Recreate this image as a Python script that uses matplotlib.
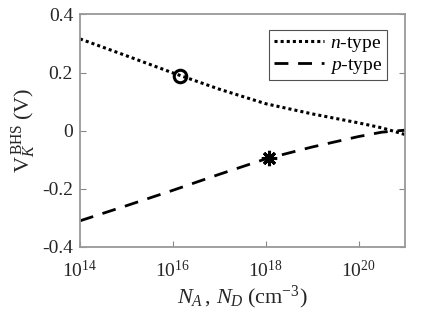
import numpy as np
import matplotlib
matplotlib.use("Agg")
import matplotlib.pyplot as plt

plt.rcParams['font.family'] = ['Liberation Serif', 'DejaVu Serif']
plt.rcParams['mathtext.fontset'] = 'custom'
plt.rcParams['mathtext.rm'] = 'Liberation Serif'
plt.rcParams['mathtext.it'] = 'Liberation Serif:italic'
plt.rcParams['mathtext.bf'] = 'Liberation Serif:bold'

# Data (log10 of doping, potential in V)
log_doping = [14, 15, 16, 17, 18, 19, 20, 20.5, 21]
n_type = [0.316, 0.258, 0.199, 0.143, 0.093, 0.058, 0.027, 0.010, -0.013]
p_type = [-0.310, -0.258, -0.205, -0.150, -0.097, -0.056, -0.020, -0.005, 0.002]

n_marker_x, n_marker_y = 1.45e16, 0.19
p_marker_x, p_marker_y = 1.2e18, -0.093

x_ticks = [1e14, 1e16, 1e18, 1e20]
x_ticklabels = [r'$\mathrm{10^{14}}$', r'$\mathrm{10^{16}}$', r'$\mathrm{10^{18}}$', r'$\mathrm{10^{20}}$']
y_ticks = [-0.4, -0.2, 0, 0.2, 0.4]
y_ticklabels = ['-0.4', '-0.2', '0', '0.2', '0.4']

x = 10.0 ** np.array(log_doping)

fig = plt.figure(figsize=(4.21, 3.22), dpi=100)
ax = fig.add_axes([0.190, 0.233, 0.772, 0.722])

ax.plot(x, n_type, color='black', linestyle=(0, (1, 1)), linewidth=2.2, label=r'$\it{n}$-type')
ax.plot(x, p_type, color='black', linestyle=(0, (5, 3.5)), linewidth=2.0, label=r'$\it{p}$-type')
ax.plot([n_marker_x], [n_marker_y], marker='o', markersize=9, markerfacecolor='none',
        markeredgecolor='black', markeredgewidth=2.2, linestyle='none')
ax.plot([p_marker_x], [p_marker_y], marker=(8, 2, 0), markersize=11,
        markeredgecolor='black', markeredgewidth=2.2, linestyle='none')

ax.set_xscale('log')
ax.set_xlim(1e14, 1e21)
ax.set_ylim(-0.4, 0.4)
ax.set_xticks(x_ticks)
ax.set_xticklabels(x_ticklabels)
ax.xaxis.set_minor_locator(matplotlib.ticker.NullLocator())
ax.set_yticks(y_ticks)
ax.set_yticklabels(y_ticklabels)

for s in ax.spines.values():
    s.set_color('#999999')
    s.set_linewidth(1.3)
ax.tick_params(direction='in', length=4, width=0.8, color='#888888', labelcolor='#262626',
               labelsize=14, top=False, right=True, pad=5)
ax.tick_params(axis='x', pad=9)

ax.set_xlabel(r'$N_A\,,\,N_D\;\mathrm{(cm^{-3})}$', fontsize=16, color='#262626', labelpad=2)
ax.set_ylabel(r'$\mathrm{V}_{\it{K}}^{\,\mathrm{BHS}}\;\mathrm{(V)}$', fontsize=16, color='#262626', labelpad=3)

leg = ax.legend(loc='upper right', bbox_to_anchor=(0.945, 0.935), fontsize=14, frameon=True,
                fancybox=False, edgecolor='#262626', handlelength=2.6, handletextpad=0.3,
                borderpad=0.25, labelspacing=0.1, borderaxespad=0)
leg.get_frame().set_linewidth(0.8)

fig.savefig('out.png', dpi=100)
